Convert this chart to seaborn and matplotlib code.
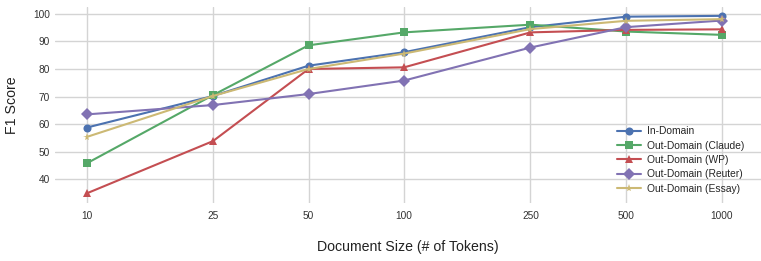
import pandas as pd
import matplotlib.pyplot as plt
import seaborn as sns

# Data
doc_sizes = [10, 25, 50, 100, 250, 500, 1000]
in_domain = [58.7, 70.2, 81.2, 86.1, 95.2, 99.0, 99.3]
out_claude = [45.7, 70.5, 88.6, 93.3, 96.1, 93.6, 92.4]
out_wp = [34.8, 53.8, 80.0, 80.6, 93.3, 94.2, 94.4]
out_reuter = [63.5, 66.9, 70.9, 75.8, 87.8, 95.2, 97.6]
out_essay = [55.3, 70.2, 80.0, 85.6, 94.5, 97.5, 98.1]

series_names = ['In-Domain', 'Out-Domain (Claude)', 'Out-Domain (WP)',
                'Out-Domain (Reuter)', 'Out-Domain (Essay)']
series_values = [in_domain, out_claude, out_wp, out_reuter, out_essay]

rows = []
for name, vals in zip(series_names, series_values):
    for size, v in zip(doc_sizes, vals):
        rows.append({'size': size, 'f1': v, 'model': name})
df = pd.DataFrame(rows)

sns.set_theme(style='whitegrid')
plt.rcParams['font.family'] = ['Liberation Sans', 'DejaVu Sans']

deep = sns.color_palette('deep')
colors = [deep[0], deep[2], deep[3], deep[4], deep[8]]
markers = ['o', 's', '^', 'D', '*']

fig, ax = plt.subplots(figsize=(7.61, 2.61), dpi=100)
sns.lineplot(data=df, x='size', y='f1', hue='model', style='model',
             palette=colors, markers=markers, dashes=False,
             markersize=5.8, linewidth=1.5, markeredgewidth=0, ax=ax)

ax.set_xscale('log')
ax.set_xticks(doc_sizes)
ax.set_xticklabels([str(s) for s in doc_sizes])
ax.minorticks_off()
ax.set_xlim(7.94, 1330)
ax.set_ylim(31.3, 102.5)
ax.set_yticks([40, 50, 60, 70, 80, 90, 100])
ax.tick_params(axis='both', labelsize=7.3, colors='#333333', length=0)
ax.tick_params(axis='x', pad=5.5)
ax.tick_params(axis='y', pad=3.5)
ax.set_xlabel('Document Size (# of Tokens)', fontsize=10.2, color='#222222')
ax.set_ylabel('F1 Score', fontsize=10.2, color='#222222')
ax.xaxis.set_label_coords(0.5, -0.189)
ax.yaxis.set_label_coords(-0.051, 0.5)
ax.grid(color='#d4d4d4', linewidth=1)
for s in ax.spines.values():
    s.set_visible(False)

ax.legend(loc='lower right', frameon=False, fontsize=7.4, title=None,
          handlelength=2.3, handletextpad=0.6, labelspacing=0.42,
          borderaxespad=0.3, bbox_to_anchor=(0.987, 0.012))

fig.subplots_adjust(left=0.072, right=1.0, top=0.973, bottom=0.222)
fig.savefig('out.png', dpi=100)
